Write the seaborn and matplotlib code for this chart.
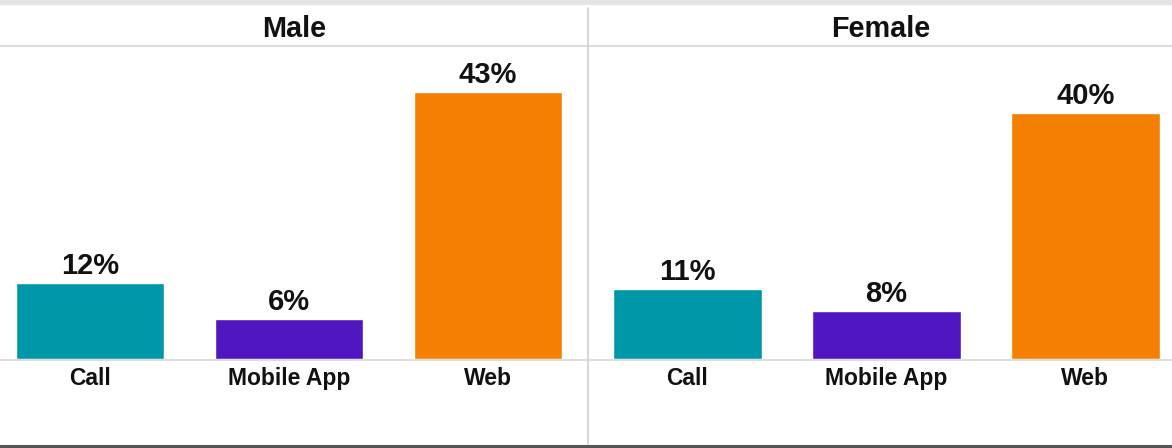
import matplotlib
matplotlib.use("Agg")
import matplotlib.pyplot as plt
from matplotlib.lines import Line2D
from matplotlib.patches import Rectangle
import seaborn as sns
import pandas as pd

sns.set_theme(style="white")
plt.rcParams["font.family"] = ["Liberation Sans", "DejaVu Sans"]

genders = ["Male", "Female"]
channels = ["Call", "Mobile App", "Web"]
male_share = [0.1226, 0.0645, 0.4306]
female_share = [0.1129, 0.0774, 0.3968]
colors = ["#0097a9", "#5016c0", "#f57f00"]

df = pd.DataFrame({
    "gender": [g for g in genders for _ in channels],
    "channel": channels * 2,
    "share": male_share + female_share,
})

W, H = 1172, 448
fig = plt.figure(figsize=(W / 100, H / 100), dpi=100)

base_px, top_px = 359, 47
panels = [
    # (gender, left px, right px, xlim)
    ("Male", 0, 588, (-0.452, 2.503)),
    ("Female", 589, 1172, (-0.495, 2.435)),
]
palette = dict(zip(channels, colors))

for gender, x0, x1, xlim in panels:
    ax = fig.add_axes([x0 / W, (H - base_px) / H, (x1 - x0) / W, (base_px - top_px) / H])
    sub = df[df["gender"] == gender]
    sns.barplot(data=sub, x="channel", y="share", hue="channel", palette=palette,
                order=channels, hue_order=channels, width=0.745, saturation=1,
                legend=False, ax=ax)
    ax.set_xlim(*xlim)
    ax.set_ylim(0, 0.503)
    for cont in ax.containers:
        vals = [b.get_height() for b in cont]
        ax.bar_label(cont, labels=[f"{v:.0%}" for v in vals], padding=2,
                     fontsize=21, fontweight="bold", color="#111111")
    ax.set_xlabel("")
    ax.set_ylabel("")
    ax.set_yticks([])
    ax.tick_params(axis="x", length=0, pad=6, labelsize=16.5)
    for lbl in ax.get_xticklabels():
        lbl.set_fontweight("bold")
        lbl.set_color("#111111")
    for s in ax.spines.values():
        s.set_visible(False)
    ax.patch.set_alpha(0)
    fig.text(((x0 + x1) / 2) / W, 1 - 37 / H, gender, ha="center", va="baseline",
             fontsize=20.8, fontweight="bold", color="#111111")

# frame lines
fig.add_artist(Rectangle((0, 1 - 5 / H), 1, 5 / H, transform=fig.transFigure,
                         facecolor="#e4e4e4", edgecolor="none"))
fig.add_artist(Line2D([0, 1], [1 - 46.5 / H] * 2, color="#dddddd", lw=1.5))
fig.add_artist(Line2D([0, 1], [1 - 359.5 / H] * 2, color="#dddddd", lw=1.5))
fig.add_artist(Line2D([588.5 / W] * 2, [1 - 8 / H, 1 - 444 / H], color="#d0d0d0", lw=1.2))
fig.add_artist(Line2D([0, 1], [1 - 446 / H] * 2, color="#555555", lw=2.2))

fig.savefig("out.png", dpi=100)
